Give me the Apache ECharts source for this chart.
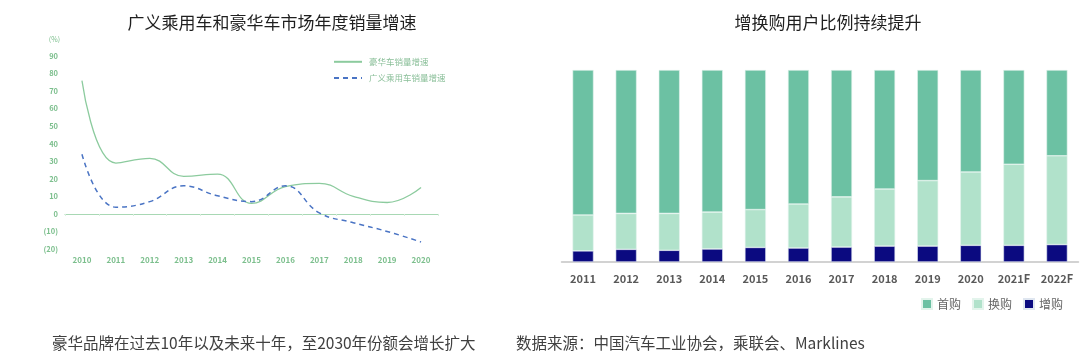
<!DOCTYPE html>
<html><head><meta charset="utf-8">
<script src="https://cdn.jsdelivr.net/npm/echarts@6/dist/echarts.min.js"></script>
<style>html,body{margin:0;padding:0;background:#fff}#c{width:1080px;height:357px}</style>
</head><body><div id="c"></div>
<script>
const lineYears = ['2010','2011','2012','2013','2014','2015','2016','2017','2018','2019','2020'];
const luxuryGrowth = [76, 29, 31.7, 21.4, 22.7, 6, 15.5, 17.4, 10, 6.5, 15];
const passengerGrowth = [34, 3.8, 7, 16, 10.3, 7, 16, 0.6, -5, -10, -16];
const yTicks = {min: -20, max: 90, interval: 10};

const barYears = ['2011','2012','2013','2014','2015','2016','2017','2018','2019','2020','2021F','2022F'];
const addBuy = [5.8, 6.6, 6.1, 6.8, 7.6, 7.3, 7.8, 8.3, 8.3, 8.7, 8.7, 9.1];
const replaceBuy = [18.7, 18.7, 19.2, 19.2, 19.7, 22.9, 26.1, 29.7, 34.1, 38.2, 42.2, 46.2];
const firstBuy = addBuy.map((a, i) => +(100 - a - replaceBuy[i]).toFixed(1));

const FONT = '"Noto Sans CJK SC", "Noto Sans", sans-serif';
const chart = echarts.init(document.getElementById('c'), null, {renderer: 'canvas'});
chart.setOption({
  animation: false,
  textStyle: {fontFamily: FONT},
  title: [
    {text: '广义乘用车和豪华车市场年度销量增速', left: 267, top: 9, textAlign: 'center',
     textStyle: {fontSize: 17, fontWeight: 'normal', color: '#1f1f1f', fontFamily: FONT}},
    {text: '增换购用户比例持续提升', left: 823, top: 9, textAlign: 'center',
     textStyle: {fontSize: 17, fontWeight: 'normal', color: '#1f1f1f', fontFamily: FONT}},
    {text: '豪华品牌在过去10年以及未来十年，至2030年份额会增长扩大', left: 47, top: 330,
     textStyle: {fontSize: 15.5, fontWeight: 'normal', color: '#404040', fontFamily: FONT}},
    {text: '数据来源：中国汽车工业协会，乘联会、Marklines', left: 511, top: 330,
     textStyle: {fontSize: 15.5, fontWeight: 'normal', color: '#404040', fontFamily: FONT}}
  ],
  legend: [
    {orient: 'vertical', left: 333, top: 57, padding: 0, itemWidth: 28, itemHeight: 12, itemGap: 6.6,
     data: ['豪华车销量增速', '广义乘用车销量增速'],
     itemStyle: {opacity: 0},
     textStyle: {fontSize: 8.5, color: '#8abf99', fontFamily: FONT, padding: [0, 0, 0, 2]}},
    {orient: 'horizontal', left: 921, top: 298, padding: 0, itemWidth: 10, itemHeight: 10, itemGap: 11,
     icon: 'rect', data: ['首购', '换购', '增购'],
     textStyle: {fontSize: 12, color: '#666', fontFamily: FONT}}
  ],
  grid: [
    {left: 65, right: 642, top: 56, bottom: 108},
    {left: 561.5, right: 1.5, top: 70, bottom: 95}
  ],
  xAxis: [
    {type: 'category', gridIndex: 0, data: lineYears, boundaryGap: true,
     axisLine: {onZero: true, lineStyle: {color: '#a8d8b4', width: 1.2}},
     axisTick: {show: true, length: 2, lineStyle: {color: '#d6eedb'}},
     axisLabel: {color: '#7cbf8d', fontSize: 8, fontWeight: 'bold', margin: 7, fontFamily: FONT}},
    {type: 'category', gridIndex: 1, data: barYears,
     axisLine: {lineStyle: {color: '#c4c4c4', width: 1.5}},
     axisTick: {show: false},
     axisLabel: {color: '#595959', fontSize: 11, fontWeight: 'bold', margin: 11, fontFamily: FONT}}
  ],
  yAxis: [
    {type: 'value', gridIndex: 0, min: yTicks.min, max: yTicks.max, interval: yTicks.interval,
     name: '(%)', nameLocation: 'end', nameGap: 13,
     nameTextStyle: {color: '#7cbf8d', fontSize: 7, align: 'right', padding: [0, 5, 0, 0], fontFamily: FONT},
     axisLine: {show: false}, axisTick: {show: false}, splitLine: {show: false},
     axisLabel: {color: '#7cbf8d', fontSize: 7.5, fontWeight: 'bold', margin: 7, fontFamily: FONT,
       formatter: v => v < 0 ? '(' + Math.abs(v) + ')' : String(v)}},
    {type: 'value', gridIndex: 1, min: 0, max: 100, show: false}
  ],
  series: [
    {name: '豪华车销量增速', type: 'line', xAxisIndex: 0, yAxisIndex: 0, data: luxuryGrowth,
     smooth: 0.45, symbol: 'none', lineStyle: {color: '#8ccb9e', width: 1.3},
     itemStyle: {color: '#8ccb9e'}},
    {name: '广义乘用车销量增速', type: 'line', xAxisIndex: 0, yAxisIndex: 0, data: passengerGrowth,
     smooth: 0.45, symbol: 'none', lineStyle: {color: '#4a74c4', width: 1.5, type: [5, 4]},
     itemStyle: {color: '#4a74c4'}},
    {name: '增购', type: 'bar', xAxisIndex: 1, yAxisIndex: 1, stack: 'b', data: addBuy, barWidth: 21,
     itemStyle: {color: '#0b0a80', borderColor: '#dfe6f0', borderWidth: 0.6}},
    {name: '换购', type: 'bar', xAxisIndex: 1, yAxisIndex: 1, stack: 'b', data: replaceBuy, barWidth: 21,
     itemStyle: {color: '#b1e2cb', borderColor: '#e3f4ec', borderWidth: 0.6}},
    {name: '首购', type: 'bar', xAxisIndex: 1, yAxisIndex: 1, stack: 'b', data: firstBuy, barWidth: 21,
     itemStyle: {color: '#6cc1a3', borderColor: '#e3f4ec', borderWidth: 0.6}}
  ]
});
</script></body></html>
